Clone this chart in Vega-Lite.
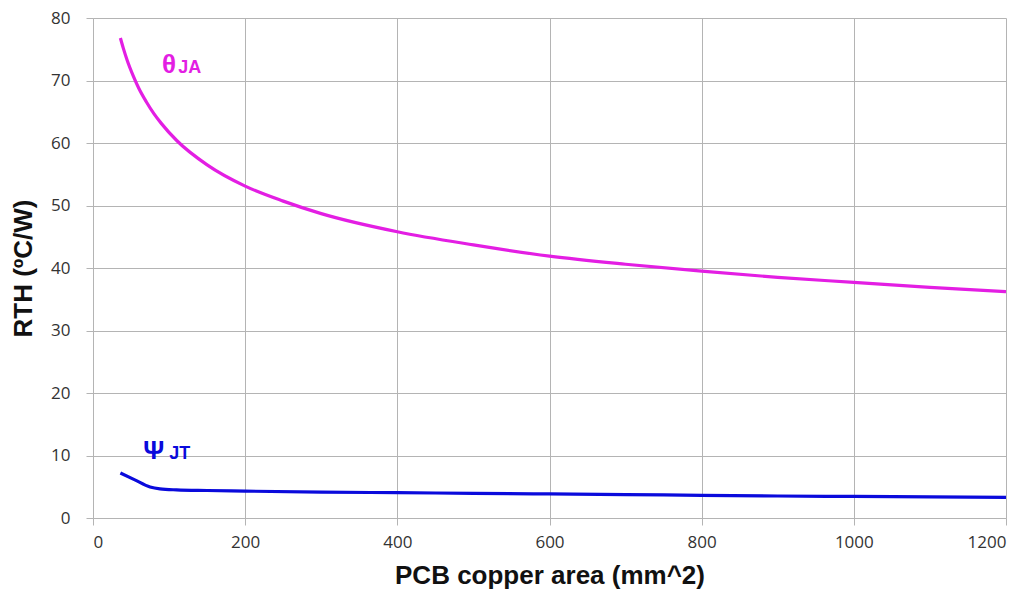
{
  "$schema": "https://vega.github.io/schema/vega-lite/v6.json",
  "width": 913,
  "height": 500,
  "autosize": {"type": "none"},
  "padding": {"left": 93, "top": 18, "right": 26, "bottom": 78},
  "background": "white",
  "config": {
    "view": {"stroke": null},
    "font": "Liberation Sans",
    "axis": {
      "gridColor": "#b4b4b4",
      "gridWidth": 1,
      "domainColor": "#b4b4b4",
      "tickColor": "#b4b4b4",
      "tickSize": 7,
      "labelFont": "Open Sans",
      "labelFontSize": 17,
      "labelColor": "#333333",
      "titleFont": "Liberation Sans",
      "titleFontSize": 26,
      "titleFontWeight": "bold",
      "titleColor": "#111111"
    }
  },
  "datasets": {
    "curves": [
      {"area": 36, "r": 76.8, "series": "θJA"},
      {"area": 40, "r": 75.1, "series": "θJA"},
      {"area": 45, "r": 73.2, "series": "θJA"},
      {"area": 53, "r": 70.7, "series": "θJA"},
      {"area": 60, "r": 68.8, "series": "θJA"},
      {"area": 70, "r": 66.6, "series": "θJA"},
      {"area": 80, "r": 64.7, "series": "θJA"},
      {"area": 90, "r": 63.1, "series": "θJA"},
      {"area": 110, "r": 60.4, "series": "θJA"},
      {"area": 150, "r": 56.5, "series": "θJA"},
      {"area": 200, "r": 53.1, "series": "θJA"},
      {"area": 250, "r": 50.7, "series": "θJA"},
      {"area": 300, "r": 48.7, "series": "θJA"},
      {"area": 400, "r": 45.8, "series": "θJA"},
      {"area": 500, "r": 43.7, "series": "θJA"},
      {"area": 600, "r": 41.9, "series": "θJA"},
      {"area": 700, "r": 40.6, "series": "θJA"},
      {"area": 800, "r": 39.5, "series": "θJA"},
      {"area": 900, "r": 38.5, "series": "θJA"},
      {"area": 1000, "r": 37.7, "series": "θJA"},
      {"area": 1100, "r": 36.9, "series": "θJA"},
      {"area": 1200, "r": 36.2, "series": "θJA"},
      {"area": 36, "r": 7.2, "series": "ψJT"},
      {"area": 55, "r": 6.1, "series": "ψJT"},
      {"area": 75, "r": 4.95, "series": "ψJT"},
      {"area": 88, "r": 4.65, "series": "ψJT"},
      {"area": 110, "r": 4.5, "series": "ψJT"},
      {"area": 150, "r": 4.4, "series": "ψJT"},
      {"area": 200, "r": 4.3, "series": "ψJT"},
      {"area": 300, "r": 4.15, "series": "ψJT"},
      {"area": 400, "r": 4.05, "series": "ψJT"},
      {"area": 500, "r": 3.95, "series": "ψJT"},
      {"area": 600, "r": 3.85, "series": "ψJT"},
      {"area": 700, "r": 3.75, "series": "ψJT"},
      {"area": 800, "r": 3.62, "series": "ψJT"},
      {"area": 900, "r": 3.52, "series": "ψJT"},
      {"area": 1000, "r": 3.45, "series": "ψJT"},
      {"area": 1100, "r": 3.38, "series": "ψJT"},
      {"area": 1200, "r": 3.3, "series": "ψJT"}
    ],
    "mainLabels": [
      {"area": 100, "r": 71.2, "text": "θ", "series": "θJA"},
      {"area": 80, "r": 9.45, "text": "Ψ", "series": "ψJT"}
    ],
    "subLabels": [
      {"area": 127, "r": 71.2, "text": "JA", "series": "θJA"},
      {"area": 114, "r": 9.45, "text": "JT", "series": "ψJT"}
    ]
  },
  "encoding": {
    "x": {
      "field": "area",
      "type": "quantitative",
      "scale": {"domain": [0, 1200], "nice": false},
      "axis": {"values": [0, 200, 400, 600, 800, 1000, 1200], "format": "d", "title": "PCB copper area (mm^2)", "labelPadding": 9, "titlePadding": 12}
    },
    "y": {
      "field": "r",
      "type": "quantitative",
      "scale": {"domain": [0, 80], "nice": false},
      "axis": {"values": [0, 10, 20, 30, 40, 50, 60, 70, 80], "title": "RTH (ºC/W)", "labelPadding": 16, "titlePadding": 14}
    },
    "color": {
      "field": "series",
      "type": "nominal",
      "scale": {"domain": ["θJA", "ψJT"], "range": ["#e31ee3", "#0a0adc"]},
      "legend": null
    }
  },
  "layer": [
    {
      "data": {"name": "curves"},
      "mark": {"type": "line", "strokeWidth": 3.2, "interpolate": "monotone"}
    },
    {
      "data": {"name": "mainLabels"},
      "mark": {"type": "text", "fontSize": 26, "font": "Liberation Sans", "fontWeight": "bold", "align": "center", "baseline": "alphabetic"},
      "encoding": {"text": {"field": "text"}}
    },
    {
      "data": {"name": "subLabels"},
      "mark": {"type": "text", "fontSize": 18, "font": "Liberation Sans", "fontWeight": "bold", "align": "center", "baseline": "alphabetic"},
      "encoding": {"text": {"field": "text"}}
    }
  ]
}
